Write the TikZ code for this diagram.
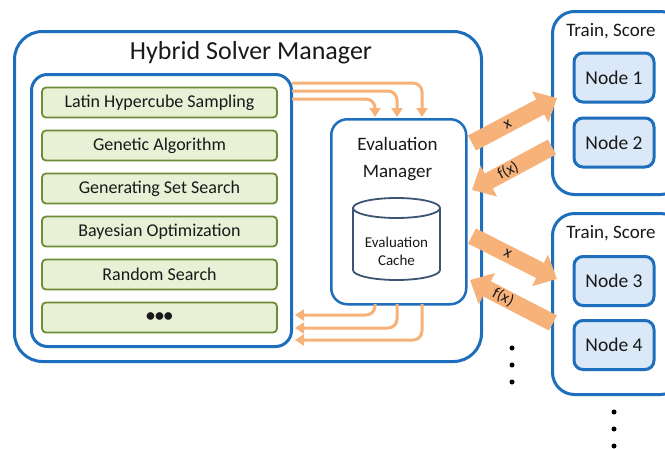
\documentclass[tikz,border=0pt]{standalone}
\usepackage{fontspec}
\setmainfont{Carlito}
\usetikzlibrary{arrows.meta}
\definecolor{myblue}{RGB}{30,110,190}
\definecolor{mygreen}{RGB}{110,140,55}
\definecolor{mygreenfill}{RGB}{232,240,214}
\definecolor{mynodefill}{RGB}{218,232,247}
\definecolor{myorange}{RGB}{247,178,122}
\definecolor{mycyl}{RGB}{60,85,115}
\definecolor{mytext}{RGB}{25,25,25}
\tikzset{
  bluebox/.style={draw=myblue, line width=3pt, fill=white, inner sep=0pt, anchor=north west},
  greenbox/.style={draw=mygreen, line width=1.8pt, fill=mygreenfill, rounded corners=4pt,
    minimum width=235pt, minimum height=30pt, inner sep=0pt, text=mytext, font=\fontsize{18}{20}\selectfont},
  nodebox/.style={draw=myblue, line width=3pt, fill=mynodefill, rounded corners=9pt,
    minimum width=80pt, minimum height=49pt, inner sep=0pt, text=mytext, font=\fontsize{19.5}{21}\selectfont},
  oarrow/.style={draw=myorange, line width=3pt, rounded corners=9pt, -{Triangle[length=9pt,width=11pt]}},
  bigarrow/.style={draw=myorange, line width=17pt, -{Triangle[length=19pt,width=34pt]}},
  arrlabel/.style={sloped, text=mytext, font=\fontsize{16}{17}\selectfont},
  dotnode/.style={circle, fill=black, inner sep=0pt, minimum size=5pt},
  trainlabel/.style={text=mytext, font=\fontsize{19}{20}\selectfont},
}
\begin{document}
\begin{tikzpicture}[x=1pt,y=-1pt]
\clip (0,0) rectangle (665,448);
\fill[white] (0,0) rectangle (665,448);

% Hybrid solver manager
\node[bluebox, rounded corners=28pt, minimum width=467pt, minimum height=330pt] (hsm) at (13,30) {};
\node[text=mytext, font=\fontsize{26}{28}\selectfont] (title) at (251,53) {Hybrid Solver Manager};

% inner list box
\node[bluebox, rounded corners=16pt, minimum width=260pt, minimum height=272pt] (list) at (30,73) {};
\node[greenbox] (g1) at (159.5,102.5) {Latin Hypercube Sampling};
\node[greenbox] (g2) at (159.5,145.5) {Genetic Algorithm};
\node[greenbox] (g3) at (159.5,188.5) {Generating Set Search};
\node[greenbox] (g4) at (159.5,231.5) {Bayesian Optimization};
\node[greenbox] (g5) at (159.5,274.5) {Random Search};
\node[greenbox] (g6) at (159.5,317.5) {\textbf{•••}};

% evaluation manager
\node[bluebox, line width=2.5pt, rounded corners=16pt, minimum width=135pt, minimum height=185pt] (eval) at (330,118) {};
\node[text=mytext, align=center, font=\fontsize{19}{27}\selectfont] (evaltext) at (397.5,159) {Evaluation\\Manager};

% cache cylinder
\fill[white] (353,208) -- (353,270) arc[start angle=180, end angle=0, x radius=43.5, y radius=10]
  -- (440,208) arc[start angle=0, end angle=-180, x radius=43.5, y radius=10] -- cycle;
\draw[mycyl, line width=1.8pt] (353,208) -- (353,270) arc[start angle=180, end angle=0, x radius=43.5, y radius=10] -- (440,208);
\draw[mycyl, line width=1.8pt] (396.5,208) ellipse[x radius=43.5, y radius=10];
\node[text=mytext, align=center, font=\fontsize{15}{18}\selectfont] (cache) at (396.5,251) {Evaluation\\Cache};

% thin orange arrows (top)
\coordinate (t1s) at (292,83);  \coordinate (t1e) at (422,117);
\coordinate (t2s) at (292,91);  \coordinate (t2e) at (397,117);
\coordinate (t3s) at (292,99);  \coordinate (t3e) at (375,117);
\draw[oarrow] (t1s) -| (t1e);
\draw[oarrow] (t2s) -| (t2e);
\draw[oarrow] (t3s) -| (t3e);
% thin orange arrows (bottom)
\coordinate (b1s) at (375,304); \coordinate (b1e) at (295,315);
\coordinate (b2s) at (397,304); \coordinate (b2e) at (295,328);
\coordinate (b3s) at (422,304); \coordinate (b3e) at (295,340);
\draw[oarrow] (b1s) |- (b1e);
\draw[oarrow] (b2s) |- (b2e);
\draw[oarrow] (b3s) |- (b3e);

% train boxes
\node[bluebox, rounded corners=22pt, minimum width=130pt, minimum height=183pt] (train1) at (551,10) {};
\node[bluebox, rounded corners=22pt, minimum width=130pt, minimum height=181pt] (train2) at (551,212) {};
\node[trainlabel] (tl1) at (611,31) {Train, Score};
\node[trainlabel] (tl2) at (611,233) {Train, Score};
\node[nodebox] (n1) at (614,77.5) {Node 1};
\node[nodebox] (n2) at (614,142.5) {Node 2};
\node[nodebox] (n3) at (614,281) {Node 3};
\node[nodebox] (n4) at (614,345) {Node 4};

% big arrows
\coordinate (a1s) at (472,143); \coordinate (a1e) at (557,98);
\coordinate (a2s) at (552,147); \coordinate (a2e) at (472,190);
\coordinate (a3s) at (472,236); \coordinate (a3e) at (557,279);
\coordinate (a4s) at (553,323); \coordinate (a4e) at (470,280);
\draw[bigarrow] (a1s) -- node[arrlabel, pos=0.42] {x} (a1e);
\draw[bigarrow] (a2s) -- node[arrlabel, pos=0.55] {f(x)} (a2e);
\draw[bigarrow] (a3s) -- node[arrlabel, pos=0.42] {x} (a3e);
\draw[bigarrow] (a4s) -- node[arrlabel, pos=0.6] {f(x)} (a4e);

% dots
\node[dotnode] (d1) at (512,348) {};
\node[dotnode] (d2) at (512,365) {};
\node[dotnode] (d3) at (512,382) {};
\node[dotnode] (d4) at (614,412) {};
\node[dotnode] (d5) at (614,429) {};
\node[dotnode] (d6) at (614,446) {};
\end{tikzpicture}
\end{document}
